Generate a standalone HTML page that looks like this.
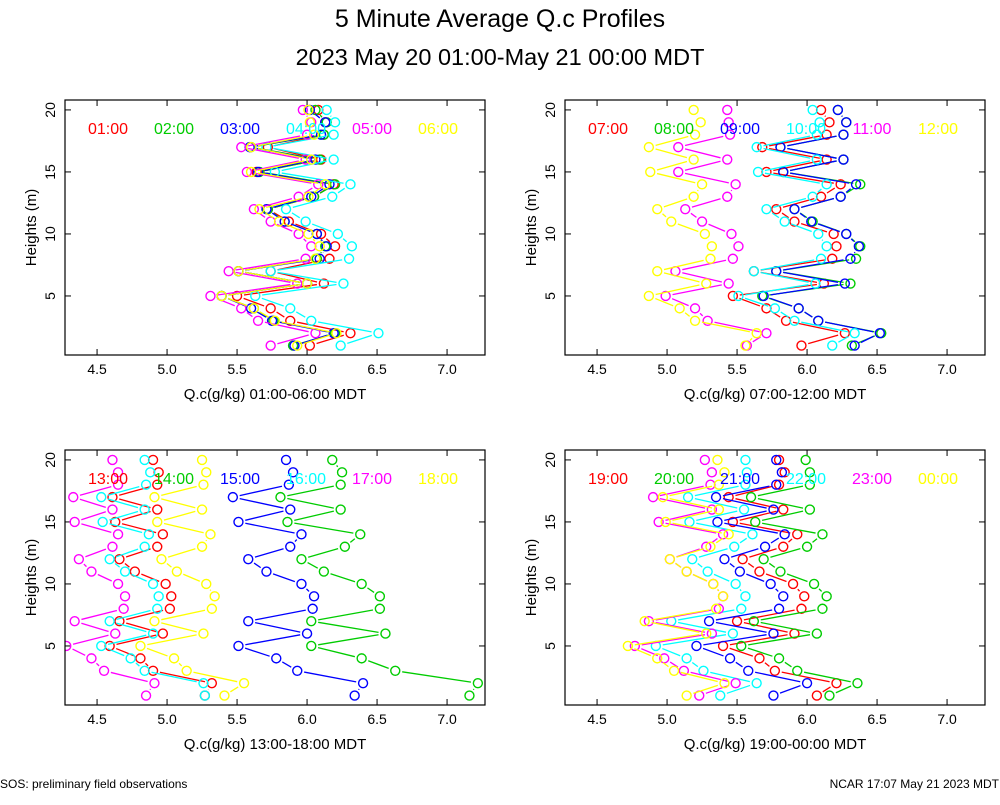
<!DOCTYPE html>
<html><head><meta charset="utf-8"><style>
body{margin:0;background:#fff;width:1000px;height:800px;overflow:hidden;font-family:"Liberation Sans",sans-serif}
svg text{font-family:"Liberation Sans",sans-serif}
</style></head><body>
<svg id="chart" width="1000" height="800" viewBox="0 0 1000 800">
<text x="500" y="27" font-size="25" text-anchor="middle">5 Minute Average Q.c Profiles</text>
<text x="500" y="65" font-size="23.5" text-anchor="middle">2023 May 20 01:00-May 21 00:00 MDT</text>
<text x="0" y="788" font-size="12">SOS: preliminary field observations</text>
<text x="999" y="788" font-size="12" text-anchor="end">NCAR 17:07 May 21 2023 MDT</text>
</svg>
<script>
const heights=[1,2,3,4,5,6,7,8,9,10,11,12,13,14,15,16,17,18,19,20];
const xTicks=[4.5,5.0,5.5,6.0,6.5,7.0];
const yTicks=[5,10,15,20];
const colors=["#ff0000","#00cc00","#0000ff","#00ffff","#ff00ff","#ffff00"];
const p1Labels=["01:00","02:00","03:00","04:00","05:00","06:00"];
const p2Labels=["07:00","08:00","09:00","10:00","11:00","12:00"];
const p3Labels=["13:00","14:00","15:00","16:00","17:00","18:00"];
const p4Labels=["19:00","20:00","21:00","22:00","23:00","00:00"];
const p1Titles="Q.c(g/kg) 01:00-06:00 MDT";
const p2Titles="Q.c(g/kg) 07:00-12:00 MDT";
const p3Titles="Q.c(g/kg) 13:00-18:00 MDT";
const p4Titles="Q.c(g/kg) 19:00-00:00 MDT";
const p1Red=[6.02,6.31,5.88,5.74,5.50,6.12,5.74,6.16,6.20,6.10,5.87,5.72,6.05,6.19,5.64,6.10,5.72,6.12,6.13,6.08];
const p1Green=[5.90,6.20,5.76,5.62,5.39,6.00,5.51,6.07,6.13,6.07,5.84,5.72,6.05,6.20,5.66,6.09,5.60,6.12,6.14,6.06];
const p1Blue=[5.91,6.19,5.75,5.60,5.39,6.00,5.51,6.09,6.14,6.07,5.84,5.71,6.03,6.16,5.65,6.06,5.59,6.10,6.13,6.02];
const p1Cyan=[6.24,6.51,6.03,5.88,5.63,6.26,5.74,6.30,6.32,6.22,5.99,5.85,6.18,6.31,5.77,6.19,5.71,6.19,6.20,6.14];
const p1Magenta=[5.74,6.06,5.65,5.53,5.31,5.93,5.44,5.99,6.03,5.94,5.74,5.62,5.94,6.08,5.57,5.99,5.53,6.00,6.03,5.97];
const p1Yellow=[5.93,6.21,5.77,5.62,5.39,6.00,5.51,6.06,6.09,6.01,5.80,5.66,6.01,6.13,5.60,6.03,5.60,6.05,6.02,6.01];
const p2Red=[5.96,6.27,5.85,5.71,5.47,6.12,5.62,6.18,6.21,6.19,5.91,5.78,6.10,6.24,5.71,6.14,5.68,6.14,6.16,6.10];
const p2Green=[6.32,6.53,6.08,5.94,5.68,6.31,5.78,6.35,6.38,6.28,6.04,5.91,6.24,6.38,5.83,6.26,5.81,6.26,6.28,6.22];
const p2Blue=[6.34,6.52,6.08,5.94,5.69,6.27,5.78,6.31,6.37,6.28,6.03,5.91,6.24,6.35,5.83,6.26,5.81,6.26,6.28,6.22];
const p2Cyan=[6.18,6.34,5.91,5.77,5.51,6.06,5.62,6.10,6.14,6.08,5.84,5.71,6.04,6.14,5.65,6.07,5.64,6.07,6.09,6.04];
const p2Magenta=[5.57,5.71,5.29,5.20,4.99,5.44,5.06,5.47,5.51,5.46,5.25,5.13,5.43,5.49,5.08,5.43,5.08,5.45,5.44,5.43];
const p2Yellow=[5.56,5.64,5.20,5.09,4.87,5.28,4.93,5.31,5.32,5.27,5.03,4.93,5.19,5.25,4.88,5.19,4.87,5.20,5.24,5.19];
const p3Red=[5.27,5.32,4.90,4.81,4.59,4.97,4.66,5.02,5.03,4.99,4.77,4.66,4.93,4.97,4.63,4.93,4.61,4.93,4.94,4.90];
const p3Green=[7.16,7.22,6.63,6.39,6.03,6.56,6.03,6.52,6.52,6.39,6.12,5.96,6.27,6.38,5.86,6.24,5.81,6.24,6.25,6.18];
const p3Blue=[6.34,6.40,5.93,5.78,5.51,6.00,5.58,6.04,6.05,5.96,5.71,5.58,5.88,5.96,5.51,5.88,5.47,5.87,5.90,5.85];
const p3Cyan=[5.27,5.26,4.84,4.74,4.53,4.90,4.59,4.93,4.94,4.90,4.70,4.59,4.84,4.87,4.54,4.84,4.53,4.85,4.88,4.84];
const p3Magenta=[4.85,4.91,4.55,4.46,4.28,4.63,4.34,4.69,4.70,4.65,4.46,4.37,4.61,4.65,4.34,4.61,4.33,4.65,4.65,4.61];
const p3Yellow=[5.41,5.55,5.14,5.05,4.81,5.26,4.91,5.32,5.34,5.28,5.07,4.96,5.25,5.31,4.93,5.25,4.91,5.26,5.28,5.25];
const p4Red=[6.07,6.21,5.77,5.66,5.40,5.91,5.50,5.96,5.98,5.90,5.66,5.54,5.83,5.93,5.47,5.83,5.44,5.80,5.84,5.80];
const p4Green=[6.16,6.36,5.93,5.80,5.53,6.07,5.62,6.11,6.14,6.05,5.81,5.69,6.00,6.11,5.63,6.02,5.60,6.02,6.02,5.99];
const p4Blue=[5.76,6.00,5.58,5.45,5.21,5.76,5.30,5.80,5.83,5.74,5.52,5.41,5.70,5.84,5.36,5.76,5.35,5.78,5.82,5.78];
const p4Cyan=[5.38,5.64,5.26,5.14,4.92,5.47,5.03,5.53,5.56,5.49,5.29,5.18,5.48,5.61,5.16,5.55,5.15,5.56,5.57,5.56];
const p4Magenta=[5.23,5.49,5.12,4.98,4.77,5.32,4.87,5.37,5.40,5.33,5.14,5.02,5.28,5.40,4.94,5.32,4.90,5.31,5.32,5.27];
const p4Yellow=[5.14,5.41,5.05,4.93,4.72,5.28,4.84,5.35,5.40,5.33,5.14,5.02,5.31,5.44,4.99,5.37,4.97,5.37,5.41,5.36];

const NS="http://www.w3.org/2000/svg";
const svg=document.getElementById('chart');
const XMIN=4.271,XMAX=7.271,YMIN=0.24,YMAX=20.8;
function mk(tag,attrs,parent){const e=document.createElementNS(NS,tag);for(const k in attrs)e.setAttribute(k,attrs[k]);(parent||svg).appendChild(e);return e;}
const panels=[
 {x0:65,y0:100,labels:p1Labels,title:p1Titles,series:[p1Red,p1Green,p1Blue,p1Cyan,p1Magenta,p1Yellow]},
 {x0:565,y0:100,labels:p2Labels,title:p2Titles,series:[p2Red,p2Green,p2Blue,p2Cyan,p2Magenta,p2Yellow]},
 {x0:65,y0:450,labels:p3Labels,title:p3Titles,series:[p3Red,p3Green,p3Blue,p3Cyan,p3Magenta,p3Yellow]},
 {x0:565,y0:450,labels:p4Labels,title:p4Titles,series:[p4Red,p4Green,p4Blue,p4Cyan,p4Magenta,p4Yellow]}
];
const W=420,H=255;
panels.forEach((p,pi)=>{
 const g=mk('g',{});
 
 
 const sx=v=>p.x0+(v-XMIN)/(XMAX-XMIN)*W;
 const sy=h=>p.y0+H-(h-YMIN)/(YMAX-YMIN)*H;
 const cp=mk('clipPath',{id:'clip'+pi},g);
 mk('rect',{x:p.x0,y:p.y0,width:W,height:H},cp);
 xTicks.forEach(t=>{
  const x=sx(t);
  mk('line',{x1:x,y1:p.y0+H,x2:x,y2:p.y0+H-6,stroke:'#000','stroke-width':1},g);
  mk('line',{x1:x,y1:p.y0,x2:x,y2:p.y0+6,stroke:'#000','stroke-width':1},g);
  const tx=mk('text',{x:x,y:p.y0+H+19,'font-size':14,'text-anchor':'middle'},g);
  
  
  tx.textContent=t.toFixed(1);
 });
 yTicks.forEach(t=>{
  const y=sy(t);
  mk('line',{x1:p.x0,y1:y,x2:p.x0+6,y2:y,stroke:'#000','stroke-width':1},g);
  mk('line',{x1:p.x0+W,y1:y,x2:p.x0+W-6,y2:y,stroke:'#000','stroke-width':1},g);
  const tx=mk('text',{x:p.x0-10,y:y,'font-size':14,'text-anchor':'middle',transform:`rotate(-90 ${p.x0-10} ${y})`},g);
  
  
  tx.textContent=t;
 });
 const yt=mk('text',{x:p.x0-29,y:p.y0+H/2,'font-size':15,'text-anchor':'middle',transform:`rotate(-90 ${p.x0-29} ${p.y0+H/2})`},g);
 
 
 yt.textContent='Heights (m)';
 const xt=mk('text',{x:p.x0+W/2,y:p.y0+H+44,'font-size':15,'text-anchor':'middle'},g);
 
 
 xt.textContent=p.title;
 const pg=mk('g',{'clip-path':`url(#clip${pi})`},g);
 p.series.forEach((s,si)=>{
  const sg=mk('g',{},pg);
  
  
  for(let i=0;i<s.length-1;i++){
   const x1=sx(s[i]),y1=sy(heights[i]),x2=sx(s[i+1]),y2=sy(heights[i+1]);
   const dx=x2-x1,dy=y2-y1,L=Math.hypot(dx,dy),gap=7;
   if(L>2*gap){const ux=dx/L,uy=dy/L;
    mk('line',{x1:x1+ux*gap,y1:y1+uy*gap,x2:x2-ux*gap,y2:y2-uy*gap,stroke:colors[si],'stroke-width':1.3},sg);}
  }
  s.forEach((v,i)=>{
   const c=mk('circle',{cx:sx(v),cy:sy(heights[i]),r:4.5,fill:'none',stroke:colors[si],'stroke-width':1.4},sg);
   
   
  });
 });
 p.labels.forEach((l,li)=>{
  const t=mk('text',{x:p.x0+43+li*66,y:p.y0+34,'font-size':16,'text-anchor':'middle',fill:colors[li]},g);
  
  
  t.textContent=l;
 });
 mk('rect',{x:p.x0,y:p.y0,width:W,height:H,fill:'none',stroke:'#000','stroke-width':1.2},g);
});
</script>
</body></html>
